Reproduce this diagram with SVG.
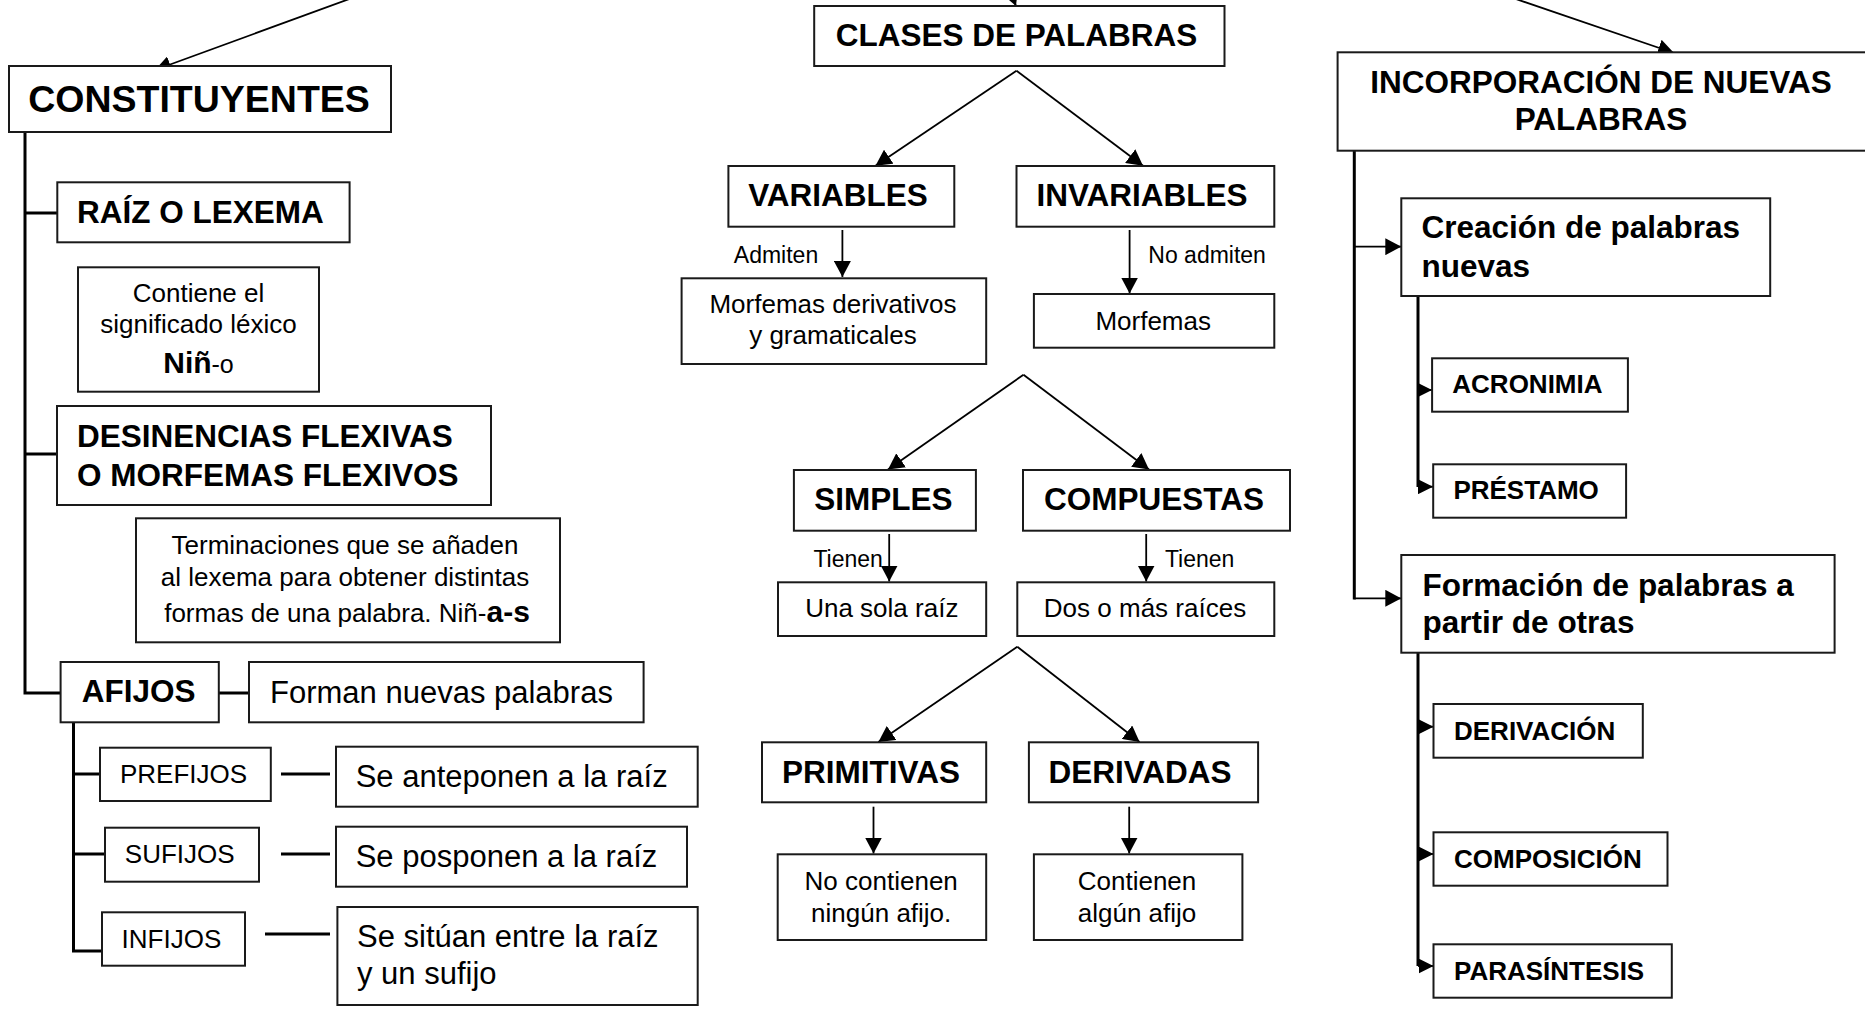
<svg xmlns="http://www.w3.org/2000/svg" width="1865" height="1009" viewBox="0 0 1865 1009">
<style>
.box{fill:#fff;stroke:#1a1a1a;stroke-width:2}
text{font-family:"Liberation Sans",Arial,sans-serif;fill:#000}
.b{font-weight:bold}
.h1{font-size:37.5px;font-weight:bold}
.h2{font-size:31.5px;font-weight:bold}
.h3{font-size:26px;font-weight:bold}
.t{font-size:26px}
.t31{font-size:31px}
.lab{font-size:23px}
.m{text-anchor:middle}
.thick{stroke:#000;stroke-width:3;fill:none}
.thin{stroke:#000;stroke-width:1.8;fill:none}
.arr{marker-end:url(#ah)}
.arrs{marker-end:url(#ahs)}
</style>
<defs>
<marker id="ah" markerUnits="userSpaceOnUse" markerWidth="16" markerHeight="17" viewBox="0 0 16 17" refX="16" refY="8.5" orient="auto"><path d="M0,0 L16,8.5 L0,17 z" fill="#000"/></marker>
<marker id="ahs" markerUnits="userSpaceOnUse" markerWidth="15" markerHeight="15" viewBox="0 0 15 15" refX="15" refY="7.5" orient="auto"><path d="M0,0 L15,7.5 L0,15 z" fill="#000"/></marker>
</defs>
<rect width="1865" height="1009" fill="#fff"/>

<g id="connectors">
  <line class="thin arr" x1="352" y1="-2" x2="155" y2="70"/>
  <line class="thin arr" x1="990" y1="-60" x2="1016" y2="6"/>
  <line class="thin arr" x1="1513" y1="-2" x2="1674" y2="53"/>
  <polyline class="thick" points="25,132 25,693 60,693"/>
  <line class="thick" x1="25" y1="213" x2="57" y2="213"/>
  <line class="thick" x1="25" y1="454" x2="57" y2="454"/>
  <line class="thick" x1="219" y1="693" x2="249" y2="693"/>
  <polyline class="thick" points="73.5,723 73.5,951 102,951"/>
  <line class="thick" x1="73.5" y1="774" x2="100" y2="774"/>
  <line class="thick" x1="73.5" y1="854" x2="105" y2="854"/>
  <line class="thick" x1="281" y1="774" x2="330" y2="774"/>
  <line class="thick" x1="281" y1="854" x2="330" y2="854"/>
  <line class="thick" x1="265" y1="934" x2="330" y2="934"/>
  <line class="thin arr" x1="1016.5" y1="70.7" x2="875.5" y2="165.7"/>
  <line class="thin arr" x1="1016.5" y1="70.7" x2="1143" y2="165.7"/>
  <line class="thin arr" x1="842.4" y1="230" x2="842.4" y2="277"/>
  <line class="thin arr" x1="1129.6" y1="230" x2="1129.6" y2="293.5"/>
  <line class="thin arr" x1="1023.5" y1="374.7" x2="888" y2="469.5"/>
  <line class="thin arr" x1="1023.5" y1="374.7" x2="1149" y2="469.5"/>
  <line class="thin arr" x1="889.2" y1="534" x2="889.2" y2="581.5"/>
  <line class="thin arr" x1="1146.2" y1="534" x2="1146.2" y2="581.5"/>
  <line class="thin arr" x1="1017.3" y1="646.7" x2="878.4" y2="742"/>
  <line class="thin arr" x1="1017.3" y1="646.7" x2="1139.6" y2="742"/>
  <line class="thin arr" x1="873.5" y1="806.7" x2="873.5" y2="853.5"/>
  <line class="thin arr" x1="1129.2" y1="806.7" x2="1129.2" y2="853.5"/>
  <line class="thick" x1="1354.3" y1="150.7" x2="1354.3" y2="599.5"/>
  <line class="thin arr" x1="1354.3" y1="246.7" x2="1401.3" y2="246.7"/>
  <line class="thin arr" x1="1354.3" y1="598.3" x2="1401.3" y2="598.3"/>
  <line class="thick" x1="1418" y1="294" x2="1418" y2="487"/>
  <line class="thin arrs" x1="1418" y1="390" x2="1432" y2="390"/>
  <line class="thin arrs" x1="1418" y1="486.7" x2="1433" y2="486.7"/>
  <line class="thick" x1="1418" y1="647" x2="1418" y2="966"/>
  <line class="thin arrs" x1="1418" y1="726.7" x2="1433.5" y2="726.7"/>
  <line class="thin arrs" x1="1418" y1="854" x2="1433.5" y2="854"/>
  <line class="thin arrs" x1="1418" y1="966" x2="1433.5" y2="966"/>
</g>

<g id="constituyentes"><rect class="box" x="9" y="66" width="382" height="66"/><text class="h1 m" x="199" y="111.5">CONSTITUYENTES</text></g>
<g id="raiz"><rect class="box" x="57.3" y="182.3" width="292.3" height="60"/><text class="h2" x="77" y="222.7">RAÍZ O LEXEMA</text></g>
<g id="raiz-def"><rect class="box" x="78" y="267.3" width="241" height="124.4"/>
  <text class="t m" x="198.5" y="301.5">Contiene el</text>
  <text class="t m" x="198.5" y="333">significado léxico</text>
  <text class="m" x="198.5" y="372.7"><tspan class="b" style="font-size:30px">Niñ</tspan><tspan style="font-size:25px">-o</tspan></text></g>
<g id="desinencias"><rect class="box" x="57" y="406" width="434" height="99"/>
  <text class="h2" x="77" y="446.7">DESINENCIAS FLEXIVAS</text>
  <text class="h2" x="77" y="485.5">O MORFEMAS FLEXIVOS</text></g>
<g id="desinencias-def"><rect class="box" x="136" y="518.3" width="424" height="124"/>
  <text class="t m" x="345" y="554">Terminaciones que se añaden</text>
  <text class="t m" x="345" y="586">al lexema para obtener distintas</text>
  <text class="t m" x="347" y="621.7">formas de una palabra. Niñ-<tspan class="b" style="font-size:30px">a-s</tspan></text></g>
<g id="afijos"><rect class="box" x="60.6" y="662" width="158.2" height="60.3"/><text class="h2" x="81.7" y="702">AFIJOS</text></g>
<g id="afijos-def"><rect class="box" x="249" y="662" width="394.6" height="60.3"/><text class="t31" x="270" y="702.7">Forman nuevas palabras</text></g>
<g id="prefijos"><rect class="box" x="100" y="747.7" width="170.8" height="53.3"/><text class="t" x="120" y="782.7">PREFIJOS</text></g>
<g id="prefijos-def"><rect class="box" x="336" y="746.7" width="361.7" height="60"/><text class="t31" x="355.7" y="787.3">Se anteponen a la raíz</text></g>
<g id="sufijos"><rect class="box" x="105" y="827.7" width="154" height="54"/><text class="t" x="124.8" y="863.3">SUFIJOS</text></g>
<g id="sufijos-def"><rect class="box" x="336" y="826.7" width="351" height="60"/><text class="t31" x="355.7" y="867.3">Se posponen a la raíz</text></g>
<g id="infijos"><rect class="box" x="102" y="912.3" width="143" height="53.4"/><text class="t" x="121.6" y="947.7">INFIJOS</text></g>
<g id="infijos-def"><rect class="box" x="337.4" y="907" width="360.3" height="98"/>
  <text class="t31" x="357" y="946.7">Se sitúan entre la raíz</text>
  <text class="t31" x="357" y="984">y un sufijo</text></g>

<g id="clases"><rect class="box" x="814.2" y="6" width="410.3" height="60"/><text class="h2 m" x="1016.5" y="45.7">CLASES DE PALABRAS</text></g>
<g id="variables"><rect class="box" x="728.4" y="166" width="225.9" height="60.7"/><text class="h2 m" x="838" y="206">VARIABLES</text></g>
<g id="invariables"><rect class="box" x="1016.5" y="166" width="257.8" height="60.7"/><text class="h2 m" x="1142" y="206">INVARIABLES</text></g>
<g id="lab-admiten"><text class="lab" x="733.8" y="262.7">Admiten</text></g>
<g id="lab-noadmiten"><text class="lab" x="1148.3" y="262.7">No admiten</text></g>
<g id="morf-deriv"><rect class="box" x="681.6" y="278.3" width="304.6" height="85.7"/>
  <text class="t m" x="833" y="313.3">Morfemas derivativos</text>
  <text class="t m" x="833" y="344.3">y gramaticales</text></g>
<g id="morfemas"><rect class="box" x="1033.9" y="294" width="240.4" height="53.7"/><text class="t m" x="1153.2" y="330">Morfemas</text></g>
<g id="simples"><rect class="box" x="793.9" y="470" width="182" height="60.7"/><text class="h2 m" x="883.5" y="510">SIMPLES</text></g>
<g id="compuestas"><rect class="box" x="1023" y="470" width="267" height="60.7"/><text class="h2 m" x="1154" y="510">COMPUESTAS</text></g>
<g id="lab-tienen1"><text class="lab" x="813.4" y="567.3">Tienen</text></g>
<g id="lab-tienen2"><text class="lab" x="1164.9" y="567.3">Tienen</text></g>
<g id="una-raiz"><rect class="box" x="778" y="582.3" width="208.2" height="53.7"/><text class="t m" x="881.8" y="617.3">Una sola raíz</text></g>
<g id="dos-raices"><rect class="box" x="1017.3" y="582.3" width="257" height="53.7"/><text class="t m" x="1145" y="617.3">Dos o más raíces</text></g>
<g id="primitivas"><rect class="box" x="762" y="742.3" width="224.2" height="60"/><text class="h2 m" x="871" y="782.7">PRIMITIVAS</text></g>
<g id="derivadas"><rect class="box" x="1028.9" y="742.3" width="229.2" height="60"/><text class="h2 m" x="1140" y="782.7">DERIVADAS</text></g>
<g id="no-contienen"><rect class="box" x="777.7" y="854.3" width="208.5" height="85.7"/>
  <text class="t m" x="881.2" y="890">No contienen</text>
  <text class="t m" x="881.2" y="921.7">ningún afijo.</text></g>
<g id="contienen"><rect class="box" x="1033.9" y="854.3" width="208.5" height="85.7"/>
  <text class="t m" x="1137" y="890">Contienen</text>
  <text class="t m" x="1137" y="921.7">algún afijo</text></g>

<g id="incorporacion"><rect class="box" x="1337.6" y="52.3" width="540" height="98.4"/>
  <text class="h2 m" x="1601" y="93.3">INCORPORACIÓN DE NUEVAS</text>
  <text class="h2 m" x="1601" y="130">PALABRAS</text></g>
<g id="creacion"><rect class="box" x="1401.3" y="198.3" width="368.9" height="97.7"/>
  <text class="h2" x="1421.5" y="238.3">Creación de palabras</text>
  <text class="h2" x="1421.5" y="276.7">nuevas</text></g>
<g id="acronimia"><rect class="box" x="1432.1" y="358.3" width="195.8" height="53.4"/><text class="h3" x="1452.3" y="393.3">ACRONIMIA</text></g>
<g id="prestamo"><rect class="box" x="1433.2" y="464.3" width="192.9" height="53.4"/><text class="h3" x="1453.4" y="499">PRÉSTAMO</text></g>
<g id="formacion"><rect class="box" x="1401.3" y="555" width="433.3" height="97.7"/>
  <text class="h2" x="1422.6" y="596">Formación de palabras a</text>
  <text class="h2" x="1422.6" y="633.3">partir de otras</text></g>
<g id="derivacion"><rect class="box" x="1433.5" y="704" width="209.3" height="53.7"/><text class="h3" x="1454" y="740">DERIVACIÓN</text></g>
<g id="composicion"><rect class="box" x="1433.5" y="832.3" width="234" height="53.4"/><text class="h3" x="1454" y="868.3">COMPOSICIÓN</text></g>
<g id="parasintesis"><rect class="box" x="1433.5" y="944.3" width="238.3" height="53.4"/><text class="h3" x="1454" y="980">PARASÍNTESIS</text></g>
</svg>
